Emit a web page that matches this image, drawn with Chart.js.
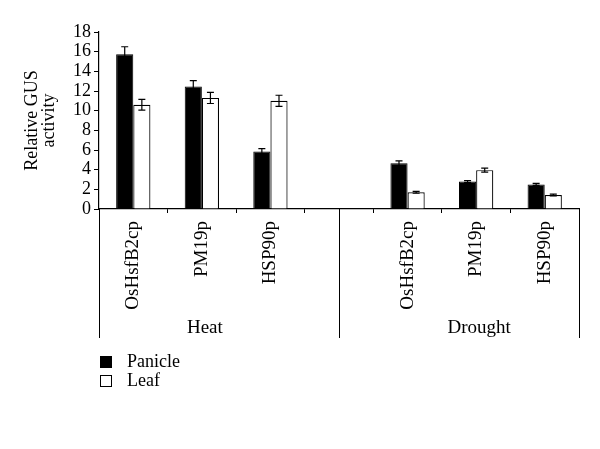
<!DOCTYPE html>
<html lang="en">
<head>
  <meta charset="UTF-8">
  <title>Relative GUS activity</title>
  <style>
    body {
      margin: 0;
      background: #fff;
    }
    #wrap {
      width: 600px;
      height: 449px;
    }
  </style>
</head>
<body>
  <div id="wrap"><canvas id="gusChart"></canvas></div>

  <script src="https://cdn.jsdelivr.net/npm/chart.js"></script>
  <script>
    // promoters, with an empty slot between the two treatments
    const promoters = ['OsHsfB2cp', 'PM19p', 'HSP90p', '', 'OsHsfB2cp', 'PM19p', 'HSP90p'];
    const treatments = ['Heat', 'Drought'];
    const treatmentSlots = [[0, 1, 2], [4, 5, 6]];

    const panicle = [15.75, 12.45, 5.85, null, 4.65, 2.8, 2.5];
    const panicleErr = [0.75, 0.6, 0.3, null, 0.25, 0.1, 0.1];
    const leaf = [10.6, 11.3, 11.0, null, 1.7, 3.95, 1.42];
    const leafErr = [0.55, 0.57, 0.57, null, 0.1, 0.2, 0.1];

    const yTicks = [0, 2, 4, 6, 8, 10, 12, 14, 16, 18];

    const serif = "'Liberation Serif', 'DejaVu Serif', serif";

    // error bars drawn from the bar elements and the y scale
    const errorBars = {
      id: 'errorBars',
      afterDatasetsDraw(chart) {
        const ctx = chart.ctx;
        const y = chart.scales.y;
        const errs = [panicleErr, leafErr];
        ctx.save();
        ctx.strokeStyle = '#000';
        ctx.lineWidth = 1.2;
        chart.data.datasets.forEach((ds, i) => {
          chart.getDatasetMeta(i).data.forEach((bar, j) => {
            const v = ds.data[j];
            const e = errs[i][j];
            if (v == null || e == null) return;
            const top = y.getPixelForValue(v + e);
            const bot = y.getPixelForValue(v - e);
            ctx.beginPath();
            ctx.moveTo(bar.x, top);
            ctx.lineTo(bar.x, bot);
            ctx.moveTo(bar.x - 3.5, top);
            ctx.lineTo(bar.x + 3.5, top);
            ctx.moveTo(bar.x - 3.5, bot);
            ctx.lineTo(bar.x + 3.5, bot);
            ctx.stroke();
          });
        });
        ctx.restore();
      }
    };

    // treatment separators, treatment names and the legend
    const extras = {
      id: 'extras',
      afterDraw(chart) {
        const ctx = chart.ctx;
        const x = chart.scales.x;
        const area = chart.chartArea;
        const lineBottom = 338;
        ctx.save();
        ctx.strokeStyle = '#000';
        ctx.lineWidth = 1;
        const seps = [area.left, x.getPixelForValue(3), area.right];
        ctx.beginPath();
        seps.forEach(sx => {
          const px = Math.round(sx) + 0.5;
          ctx.moveTo(px, area.bottom);
          ctx.lineTo(px, lineBottom);
        });
        ctx.stroke();

        ctx.fillStyle = '#000';
        ctx.font = '19px ' + serif;
        ctx.textAlign = 'center';
        ctx.textBaseline = 'middle';
        treatments.forEach((name, k) => {
          const slots = treatmentSlots[k];
          const cx = slots.reduce((s, j) => s + x.getPixelForValue(j), 0) / slots.length;
          ctx.fillText(name, cx + 3, 328);
        });

        // legend
        ctx.font = '18px ' + serif;
        ctx.textAlign = 'left';
        chart.data.datasets.forEach((ds, i) => {
          const ly = 362 + i * 19;
          ctx.fillStyle = ds.backgroundColor;
          ctx.fillRect(100.5, ly - 5.5, 11, 11);
          ctx.strokeStyle = '#000';
          ctx.strokeRect(100.5, ly - 5.5, 11, 11);
          ctx.fillStyle = '#000';
          ctx.fillText(ds.label, 127, ly);
        });
        ctx.restore();
      }
    };

    new Chart(document.getElementById('gusChart'), {
      type: 'bar',
      data: {
        labels: promoters,
        datasets: [
          {
            label: 'Panicle',
            data: panicle,
            backgroundColor: '#000',
            borderColor: '#000',
            borderWidth: 1,
            categoryPercentage: 0.5,
            barPercentage: 1.0
          },
          {
            label: 'Leaf',
            data: leaf,
            backgroundColor: '#fff',
            borderColor: '#000',
            borderWidth: 1.2,
            categoryPercentage: 0.5,
            barPercentage: 1.0
          }
        ]
      },
      options: {
        responsive: true,
        maintainAspectRatio: false,
        animation: false,
        layout: {
          padding: { top: 32, right: 21, bottom: 0, left: 24 }
        },
        plugins: {
          legend: { display: false },
          tooltip: { enabled: false }
        },
        scales: {
          x: {
            offset: true,
            border: { color: '#000', width: 1.2 },
            grid: {
              offset: true,
              drawOnChartArea: false,
              color: '#000',
              tickLength: 4
            },
            ticks: {
              color: '#000',
              font: { family: serif, size: 19 },
              minRotation: 90,
              maxRotation: 90,
              autoSkip: false,
              padding: 8
            },
            afterFit(scale) {
              scale.height = 240;
            }
          },
          y: {
            min: 0,
            max: 18,
            afterBuildTicks(scale) {
              scale.ticks = yTicks.map(v => ({ value: v }));
            },
            border: { color: '#000', width: 1.2 },
            grid: {
              drawOnChartArea: false,
              color: '#000',
              tickLength: 5
            },
            ticks: {
              color: '#000',
              font: { family: serif, size: 18 },
              autoSkip: false,
              padding: 3
            },
            title: {
              display: true,
              text: ['Relative GUS', 'activity'],
              color: '#000',
              font: { family: serif, size: 18, lineHeight: 0.95 },
              padding: { top: 0, bottom: 2 }
            },
            afterFit(scale) {
              scale.width = 75;
            }
          }
        }
      },
      plugins: [errorBars, extras]
    });
  </script>
</body>
</html>
